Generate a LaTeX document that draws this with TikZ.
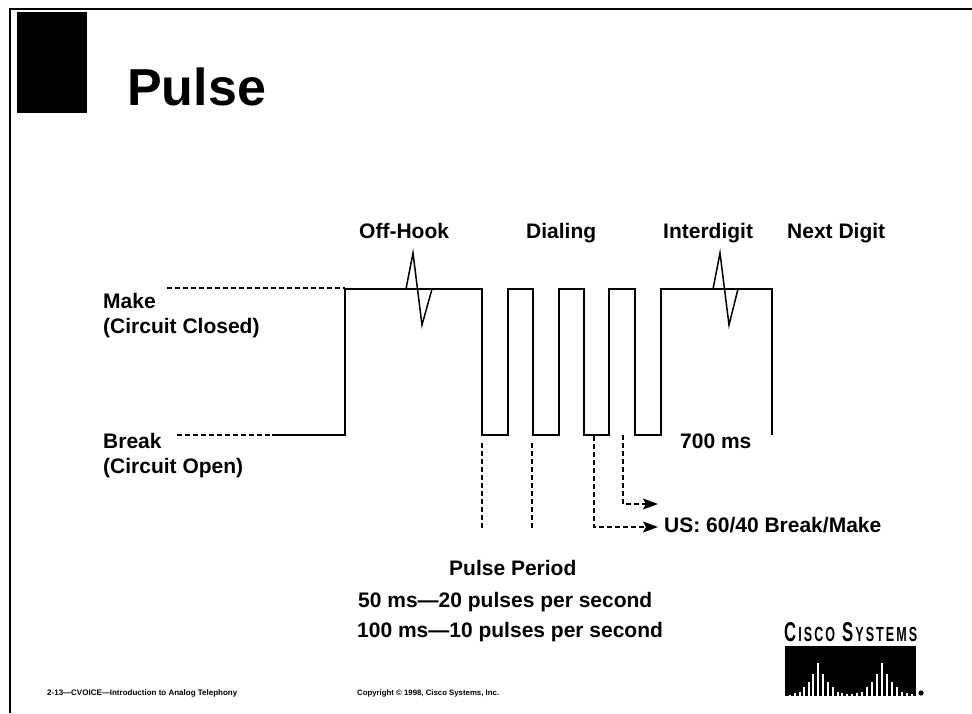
\documentclass[tikz,border=0pt]{standalone}
\usepackage{fontspec}
\setmainfont{Liberation Sans}
\usetikzlibrary{arrows.meta}
\tikzset{
  lbl/.style={inner sep=0pt,anchor=base west,font=\fontsize{21}{24}\selectfont\bfseries},
  foot/.style={inner sep=0pt,anchor=base west,font=\fontsize{8}{10}\selectfont\bfseries},
  wave/.style={line width=2pt,line join=miter},
  spike/.style={line width=1.5pt,line join=miter},
  dash1/.style={line width=1.7pt,dash pattern=on 5pt off 3pt},
  dasharrow/.style={line width=1.5pt,dash pattern=on 5pt off 3pt,-{Stealth[length=15pt,width=11pt,inset=3pt]}},
}
\begin{document}
\begin{tikzpicture}[x=1pt,y=-1pt]
\useasboundingbox (0,0) rectangle (972,713);
\fill[white] (0,0) rectangle (972,713);
% frame
\coordinate (ftl) at (10,9);
\coordinate (ftr) at (972,9);
\coordinate (fbl) at (10,713);
\draw[line width=2pt] (ftr) -- (ftl) -- (fbl);
\fill[black] (17,12) rectangle (87,113);
\node[inner sep=0pt,anchor=base west,font=\fontsize{52}{54}\selectfont\bfseries] (title) at (127,105) {Pulse};
% headings
\node[lbl] (offhook) at (359,238) {Off-Hook};
\node[lbl] (dialing) at (526,238) {Dialing};
\node[lbl] (interdigit) at (663,238) {Interdigit};
\node[lbl] (nextdigit) at (787,238) {Next Digit};
\node[lbl] (make) at (103,308) {Make};
\node[lbl] (closed) at (103,333) {(Circuit Closed)};
\node[lbl] (break) at (103,448) {Break};
\node[lbl] (open) at (103,473) {(Circuit Open)};
\node[lbl] (ms) at (680,448) {700 ms};
\node[lbl] (us) at (664,532) {US: 60/40 Break/Make};
\node[lbl] (period) at (449,575) {Pulse Period};
\node[lbl] (p50) at (358,607) {50 ms---20 pulses per second};
\node[lbl] (p100) at (357,637) {100 ms---10 pulses per second};
\node[foot] (footl) at (47,695) {2-13---CVOICE---Introduction to Analog Telephony};
\node[foot,font=\fontsize{7.8}{10}\selectfont\bfseries] (footr) at (357,695) {Copyright © 1998, Cisco Systems, Inc.};
% waveform
\coordinate (m0) at (167,288);
\coordinate (b0) at (177,435);
\coordinate (b1) at (272,435);
\draw[line width=1.5pt,dash pattern=on 5pt off 3pt] (m0) -- (345,288);
\draw[line width=1.5pt,dash pattern=on 5pt off 3pt] (b0) -- (b1);
\draw[wave] (b1) -- (345,435) -- (345,289) -- (482,289) -- (482,435) -- (508,435) -- (508,289)
  -- (533,289) -- (533,435) -- (559,435) -- (559,289) -- (584,289) -- (584,435) -- (609,435)
  -- (609,289) -- (635,289) -- (635,435) -- (661,435) -- (661,289) -- (772,289) -- (772,435);
\draw[spike] (406,289) -- (413,253) -- (422,325) -- (432,289);
\draw[spike] (713,289) -- (720,253) -- (729,325) -- (738,289);
% dashed
\coordinate (d1a) at (482,443); \coordinate (d1b) at (482,530);
\coordinate (d2a) at (532,443); \coordinate (d2b) at (532,530);
\coordinate (d3a) at (594,436); \coordinate (d3b) at (594,527); \coordinate (d3c) at (658,527);
\coordinate (d4a) at (623,435); \coordinate (d4b) at (623,504); \coordinate (d4c) at (658,504);
\draw[dash1] (d1a) -- (d1b);
\draw[dash1] (d2a) -- (d2b);
\draw[dasharrow] (d3a) -- (d3b) -- (d3c);
\draw[dasharrow] (d4a) -- (d4b) -- (d4c);
% logo
\node[inner sep=0pt,anchor=base west] (cisco) at (784,641) {\resizebox{133pt}{19pt}{\bfseries\fontsize{20}{20}\selectfont C\fontsize{15}{20}\selectfont\,I\,S\,C\,O\ \ \fontsize{20}{20}\selectfont S\fontsize{15}{20}\selectfont\,Y\,S\,T\,E\,M\,S}};
\fill[black] (785,646) rectangle (916,696);
\foreach \xx/\tp in {790/695,795/693,800/692,804/687,809/682,813/674,818/663,823/674,828/682,833/687,838/692,842/693,847/694,852/694,857/693,862/692,867/687,872/682,877/674,882/663,887/674,892/682,897/687,902/692,907/693,912/694}
  \draw[white,line width=1.5pt] (\xx,\tp) -- (\xx,696);
\fill[black] (921,693) circle (2.6);
\end{tikzpicture}
\end{document}
